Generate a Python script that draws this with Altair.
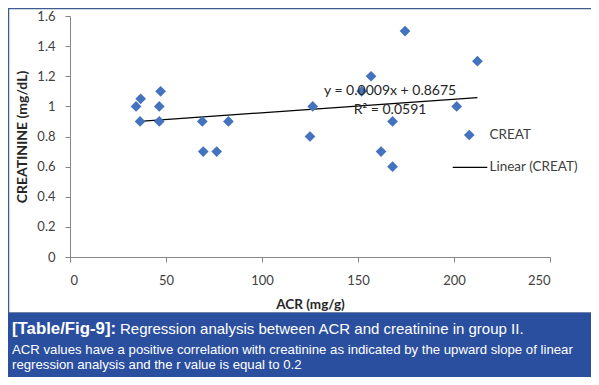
import altair as alt
import pandas as pd

# ---- data ----
acr = [34.4, 36.8, 36.5, 47.2, 46.5, 46.5, 68.9, 69.4, 76.4, 82.5,
       174.5, 212.2, 156.8, 151.9, 126.4, 201.4, 168.0, 125.0, 162.0, 168.0]
creat = [1.0, 1.05, 0.9, 1.1, 1.0, 0.9, 0.9, 0.7, 0.7, 0.9,
         1.5, 1.3, 1.2, 1.1, 1.0, 1.0, 0.9, 0.8, 0.7, 0.6]
slope = 0.0009
intercept = 0.8675
r_squared = 0.0591
x_ticks = [0, 50, 100, 150, 200, 250]
y_ticks = [0, 0.2, 0.4, 0.6, 0.8, 1.0, 1.2, 1.4, 1.6]
eq_text = ["y = 0.0009x + 0.8675", "R² = 0.0591"]
eq_pos_x = [166.7, 166.7]
eq_pos_y = [1.105, 0.975]
legend_labels = ["CREAT", "Linear (CREAT)"]
caption_bold = "[Table/Fig-9]:"
caption_lines = [
    "Regression analysis between ACR and creatinine in group II.",
    "ACR values have a positive correlation with creatinine as indicated by the upward slope of linear",
    "regression analysis and the r value is equal to 0.2",
]

BLUE = "#4373BE"
CAP_BG = "#2B4F9F"
BORDER = "#3E5C8C"
AXIS_FONT = "Lato"
CAP_FONT = "Liberation Sans"

pts = pd.DataFrame({"ACR": acr, "CREAT": creat})
xmin, xmax = min(acr), max(acr)
trend = pd.DataFrame({"ACR": [xmin, xmax],
                      "CREAT": [slope * xmin + intercept, slope * xmax + intercept]})
eq = pd.DataFrame({"ACR": eq_pos_x, "CREAT": eq_pos_y, "t": eq_text})

W, H = 480, 241

xscale = alt.Scale(domain=[0, 250], nice=False, zero=True)
yscale = alt.Scale(domain=[0, 1.6], nice=False, zero=True)

xaxis = alt.Axis(values=x_ticks, title="ACR (mg/g)", grid=False, tickSize=5,
                 labelOverlap=False,
                 domainColor="#868686", tickColor="#868686", labelColor="#404040",
                 labelFont=AXIS_FONT, labelFontSize=13, labelPadding=12,
                 titleFont=AXIS_FONT, titleFontSize=13.5, titleFontWeight="bold",
                 titleColor="#262626", titleX=W / 2, titleY=51,
                 titleBaseline="alphabetic", titleAlign="center", zindex=1)
yaxis = alt.Axis(values=y_ticks, title="CREATININE  (mg/dL)", grid=False, tickSize=5,
                 labelOverlap=False,
                 format=".1~f", domainColor="#868686", tickColor="#868686",
                 labelColor="#404040", labelFont=AXIS_FONT, labelFontSize=13,
                 labelPadding=10,
                 titleFont=AXIS_FONT, titleFontSize=14, titleFontWeight="bold",
                 titleColor="#262626", titleX=-44, titleY=H / 2, titleAngle=270,
                 titleBaseline="alphabetic", titleAlign="center", zindex=1)

X = alt.X("ACR:Q", scale=xscale, axis=xaxis)
Y = alt.Y("CREAT:Q", scale=yscale, axis=yaxis)

one = pd.DataFrame({"k": [0]})

border = alt.Chart(one).mark_rect(fill="transparent", stroke=BORDER, strokeWidth=1.5).encode(
    x=alt.value(-61.5), x2=alt.value(525.5), y=alt.value(-7.5), y2=alt.value(297))

points = alt.Chart(pts).mark_point(shape="diamond", filled=True, size=115,
                                   color=BLUE, opacity=1).encode(x=X, y=Y)

line = alt.Chart(trend).mark_line(color="black", strokeWidth=1.3).encode(x=X, y=Y)

eqtext = alt.Chart(eq).mark_text(font=AXIS_FONT, fontSize=14, color="#262626",
                                 baseline="middle", align="center").encode(
    x=X, y=Y, text="t:N")

leg_pt = alt.Chart(one).mark_point(shape="diamond", filled=True, size=115,
                                   color=BLUE, opacity=1).encode(
    x=alt.value(399.3), y=alt.value(119))
leg_ln = alt.Chart(one).mark_rule(color="black", strokeWidth=1.3).encode(
    x=alt.value(382.7), x2=alt.value(417.3), y=alt.value(151.3))
leg_txt = alt.Chart(pd.DataFrame({"t": legend_labels, "yy": [119, 151.3]})).mark_text(
    font=AXIS_FONT, fontSize=13.5, color="#404040", align="left", baseline="middle",
    dx=0).encode(x=alt.value(419.5), y=alt.Y("yy:Q", scale=None), text="t:N")

cap_box = alt.Chart(one).mark_rect(fill=CAP_BG).encode(
    x=alt.value(-62), x2=alt.value(526), y=alt.value(297), y2=alt.value(361))
cap_b = alt.Chart(one).mark_text(font=CAP_FONT, fontSize=16.8, fontWeight="bold",
                                 color="white", align="left", baseline="alphabetic",
                                 text=caption_bold).encode(
    x=alt.value(-58), y=alt.value(318))
cap_df = pd.DataFrame({"t": caption_lines, "xx": [50, -58, -58],
                       "yy": [318, 338, 353], "fs": [15, 13.2, 13.2]})
cap_txt = alt.Chart(cap_df).mark_text(font=CAP_FONT, color="white", align="left",
                                      baseline="alphabetic").encode(
    x=alt.X("xx:Q", scale=None), y=alt.Y("yy:Q", scale=None), text="t:N",
    size=alt.Size("fs:Q", scale=None, legend=None))

chart = alt.layer(border, line, points, eqtext, leg_pt, leg_ln, leg_txt,
                  cap_box, cap_b, cap_txt).properties(
    width=W, height=H,
    autosize=alt.AutoSizeParams(type="none"),
    padding={"left": 62, "top": 8, "right": 41, "bottom": 120},
    background="white",
).configure_view(strokeWidth=0)

chart.save("out.html", embed_options={"renderer": "svg", "actions": False})
